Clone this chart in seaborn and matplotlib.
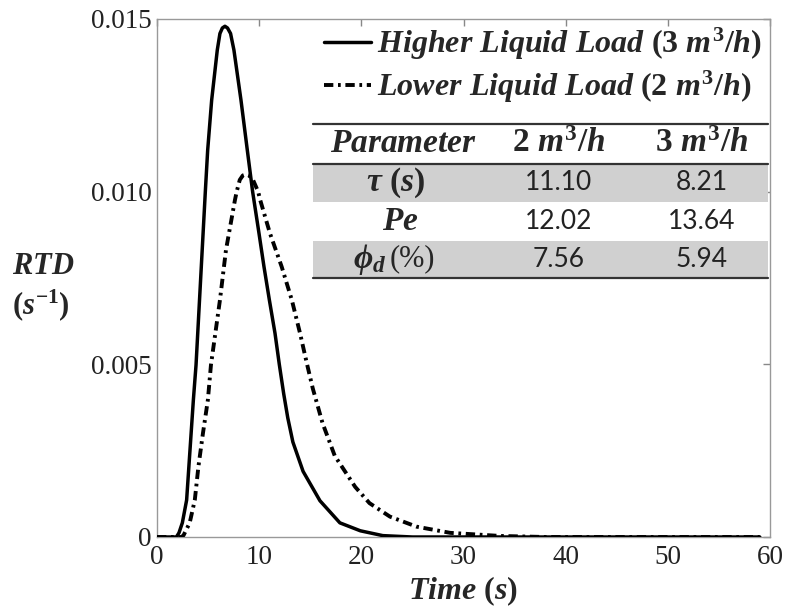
import numpy as np
import pandas as pd
import matplotlib
matplotlib.use("Agg")
import matplotlib.pyplot as plt
import seaborn as sns
from matplotlib.lines import Line2D
from matplotlib.patches import Rectangle

# ---- data ----
t_high = [0, 1.0, 1.9, 2.15, 2.48, 2.9, 3.56, 3.82, 4.73, 4.96, 5.35, 5.9, 6.16, 6.4, 6.65,
          6.9, 7.2, 7.53, 8.22, 8.84, 9.36, 9.98, 10.47, 11.0, 11.55, 11.97, 12.4, 12.8,
          13.3, 14.3, 15.95, 17.9, 19.9, 22.1, 25, 30, 40, 50, 59]
rtd_high = [0, 0, 0.0, 0.00012, 0.00041, 0.00107, 0.00397, 0.00498, 0.0100, 0.0112,
            0.01265, 0.0141, 0.01458, 0.01474, 0.01479, 0.01474, 0.01458, 0.0141, 0.01265,
            0.0112, 0.0100, 0.0088, 0.00783, 0.00686, 0.0059, 0.00500, 0.00415, 0.00345,
            0.00275, 0.00190, 0.00105, 0.00041, 0.00018, 0.00004, 0.0, 0, 0, 0, 0]

t_low = [0, 1.0, 2.4, 2.6, 3.2, 3.7, 4.05, 4.5, 4.98, 5.28, 6.16, 6.75, 7.63, 7.8, 8.1,
         8.4, 8.7, 9.0, 9.4, 9.9, 10.1, 11.05, 12.2, 13.2, 14.0, 14.65, 15.25, 16.2, 17.4,
         19.4, 20.8, 22.8, 25.4, 28.7, 33.6, 38, 45, 59]
rtd_low = [0, 0, 0.0, 0.00005, 0.00041, 0.00107, 0.00203, 0.00301, 0.00397, 0.00498,
           0.00686, 0.00831, 0.00976, 0.0100, 0.01034, 0.01047, 0.0105, 0.01047, 0.01034,
           0.0100, 0.00976, 0.0088, 0.00783, 0.00686, 0.0059, 0.00505, 0.00430, 0.00330,
           0.00235, 0.00145, 0.00098, 0.00059, 0.00030, 0.00012, 0.00003, 0.0, 0, 0]

series_labels = [r"$Higher\ Liquid\ Load\ (3\ m^3/h)$",
                 r"$Lower\ Liquid\ Load\ (2\ m^3/h)$"]

x_ticks = [0, 10, 20, 30, 40, 50, 60]
y_ticks = [0, 0.005, 0.010, 0.015]
y_tick_labels = ["0", "0.005", "0.010", "0.015"]

table_header = [r"$Parameter$", r"$2\ m^3/h$", r"$3\ m^3/h$"]
table_params = [r"$\tau\ (s)$", r"$Pe$", r"$\phi_d$"]
table_param_suffix = ["", "", "(%)"]
table_col_2 = ["11.10", "12.02", "7.56"]
table_col_3 = ["8.21", "13.64", "5.94"]

# ---- styling ----
sns.set_theme(style="white")
plt.rcParams["font.family"] = ["Liberation Serif", "DejaVu Serif"]
plt.rcParams["mathtext.fontset"] = "custom"
plt.rcParams["mathtext.rm"] = "Liberation Serif:bold"
plt.rcParams["mathtext.it"] = "Liberation Serif:italic:bold"
plt.rcParams["mathtext.bf"] = "Liberation Serif:bold"

W, H = 789, 609
fig = plt.figure(figsize=(W / 100, H / 100), dpi=100)
ax_l, ax_r, ax_t, ax_b = 157, 770, 19, 537
ax = fig.add_axes([ax_l / W, 1 - ax_b / H, (ax_r - ax_l) / W, (ax_b - ax_t) / H])

df_high = pd.DataFrame({"t": t_high, "rtd": rtd_high})
df_low = pd.DataFrame({"t": t_low, "rtd": rtd_low})

dash = (0, (2.4, 1.2, 0.7, 1.2))
sns.lineplot(data=df_high, x="t", y="rtd", ax=ax, color="black", lw=2.5, zorder=3)
sns.lineplot(data=df_low, x="t", y="rtd", ax=ax, color="black", lw=2.8, zorder=3,
             linestyle=dash)

ax.set_xlim(0, 60)
ax.set_ylim(0, 0.015)
ax.set_xticks(x_ticks)
ax.set_xticklabels([str(v) for v in x_ticks])
ax.set_yticks(y_ticks)
ax.set_yticklabels(y_tick_labels)
ax.tick_params(direction="in", length=5, width=1, color="#888888", top=True, right=True,
               labelsize=19.5, pad=4, labelcolor="#222222")
ax.tick_params(axis="x", pad=6)
for s in ax.spines.values():
    s.set_color("#999999")
    s.set_linewidth(1.0)

ax.set_xlabel(r"$Time\ (s)$", fontsize=23, labelpad=3)
ax.set_ylabel("")
fig.text(12 / W, 1 - 266 / H, r"$RTD$", fontsize=22, ha="left", va="center")
fig.text(12 / W, 1 - 305 / H, r"$(s^{-1})$", fontsize=22, ha="left", va="center")

handles = [Line2D([], [], color="black", lw=2.5),
           Line2D([], [], color="black", lw=2.8, linestyle=dash)]
leg = ax.legend(handles, series_labels, loc="upper right", frameon=False,
                bbox_to_anchor=(762 / W, 1 - 26 / H), bbox_transform=fig.transFigure,
                fontsize=23, handlelength=1.45, handletextpad=0.2, labelspacing=0.2,
                borderpad=0, borderaxespad=0)

# ---- parameter table ----
tx0, tx1 = 313, 768
row_edges = [124, 164, 202, 241, 278]
col_centers = [400, 559, 702]
def fx(x):
    return x / W
def fy(y):
    return 1 - y / H

for i in (1, 3):
    fig.add_artist(Rectangle((fx(tx0), fy(row_edges[i + 1])), fx(tx1) - fx(tx0),
                             fy(row_edges[i]) - fy(row_edges[i + 1]),
                             transform=fig.transFigure, facecolor="#d0d0d0",
                             edgecolor="none", zorder=1))
for y in (row_edges[0], row_edges[1], row_edges[4]):
    fig.add_artist(Line2D([fx(tx0), fx(tx1)], [fy(y), fy(y)], color="#333333", lw=1.6,
                          transform=fig.transFigure, zorder=2))

hy = (row_edges[0] + row_edges[1]) / 2
fig.text(fx(403), fy(hy), table_header[0], fontsize=24, ha="center", va="center", zorder=4)
for c, txt in zip(col_centers[1:], table_header[1:]):
    fig.text(fx(c), fy(hy), txt, fontsize=24, ha="center", va="center", zorder=4)
for r in range(3):
    yc = (row_edges[r + 1] + row_edges[r + 2]) / 2
    if table_param_suffix[r]:
        fig.text(fx(col_centers[0] - 14), fy(yc), table_params[r], fontsize=24,
                 ha="right", va="center", zorder=4)
        fig.text(fx(col_centers[0] - 10), fy(yc - 1), table_param_suffix[r], fontsize=22,
                 ha="left", va="center", zorder=4, family="Liberation Serif")
    else:
        fig.text(fx(col_centers[0] - (4 if r == 0 else 0)), fy(yc), table_params[r],
                 fontsize=24, ha="center", va="center", zorder=4)
    fig.text(fx(col_centers[1]), fy(yc), table_col_2[r], fontsize=19, ha="center",
             va="center", family="Lato", color="#222222", zorder=4)
    fig.text(fx(col_centers[2]), fy(yc), table_col_3[r], fontsize=19, ha="center",
             va="center", family="Lato", color="#222222", zorder=4)

fig.savefig("out.png", dpi=100)
